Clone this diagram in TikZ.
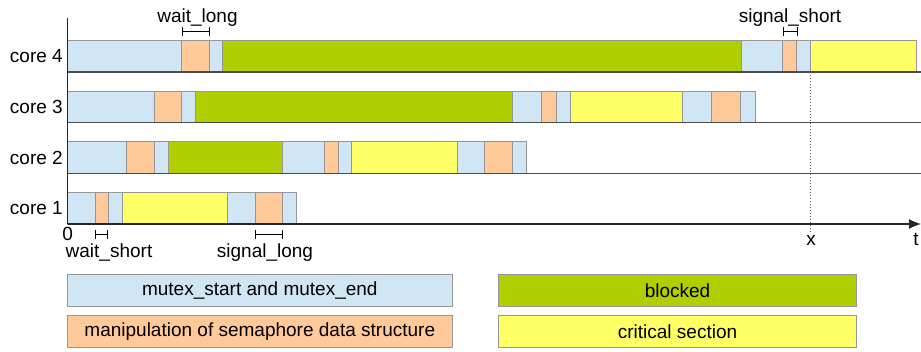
\documentclass[tikz,border=0pt]{standalone}
\usepackage{fontspec}
\setmainfont{Liberation Sans}
\usetikzlibrary{arrows.meta}
\definecolor{mtxblue}{RGB}{208,230,244}
\definecolor{semorange}{RGB}{255,201,153}
\definecolor{blkgreen}{RGB}{176,206,0}
\definecolor{crityellow}{RGB}{255,255,102}
\definecolor{edgegray}{RGB}{150,150,150}
\begin{document}
\begin{tikzpicture}[x=1pt,y=-1pt,
  every node/.style={font=\fontsize{19}{22}\selectfont, inner sep=0pt},
  mutex/.style={fill=mtxblue, draw=edgegray, line width=0.9pt},
  semdata/.style={fill=semorange, draw=edgegray, line width=0.9pt},
  blocked/.style={fill=blkgreen, draw=edgegray, line width=0.9pt},
  critical/.style={fill=crityellow, draw=edgegray, line width=0.9pt},
  rowline/.style={draw=black!70, line width=1.1pt},
  span/.style={black, line width=0.8pt, {Bar[width=9pt]}-{Bar[width=9pt]}},
  legendbox/.style={minimum height=32.4pt, draw=edgegray, line width=1pt}]
\useasboundingbox (0,0) rectangle (921,352);
% core 4
\foreach \a/\b/\s in {67.7/181.7/mutex, 181.7/209.3/semdata, 209.3/222.3/mutex,
  222.3/741.7/blocked, 741.7/782.7/mutex, 782.7/796.7/semdata, 796.7/810.7/mutex,
  810.7/916/critical}
  \draw[\s] (\a,40.7) rectangle (\b,72);
% core 3
\foreach \a/\b/\s in {67.7/154/mutex, 154/181.7/semdata, 181.7/195.3/mutex,
  195.3/512.3/blocked, 512.3/541.7/mutex, 541.7/556.3/semdata, 556.3/570.3/mutex,
  570.3/682.3/critical, 682.3/711.7/mutex, 711.7/740.3/semdata, 740.3/755.3/mutex}
  \draw[\s] (\a,91.2) rectangle (\b,122.7);
% core 2
\foreach \a/\b/\s in {67.7/126.7/mutex, 126.7/154.3/semdata, 154.3/168.3/mutex,
  168.3/282.7/blocked, 282.7/324/mutex, 324/338.3/semdata, 338.3/351.7/mutex,
  351.7/457/critical, 457/484.3/mutex, 484.3/512.3/semdata, 512.3/526/mutex}
  \draw[\s] (\a,141.8) rectangle (\b,173.3);
% core 1
\foreach \a/\b/\s in {67.7/95/mutex, 95/108.3/semdata, 108.3/122.7/mutex,
  122.7/227.7/critical, 227.7/255.3/mutex, 255.3/282.7/semdata, 282.7/296.3/mutex}
  \draw[\s] (\a,192.5) rectangle (\b,224);
% rows and axes
\foreach \y in {72,122.7,173.3}
  \draw[rowline] (67.7,\y) -- (921,\y);
\draw[black!85, line width=1.1pt] (67.7,18) -- (67.7,224);
\draw[black!85, line width=1.1pt, -{Latex[length=12pt, width=10pt]}] (67.7,224) -- (921,224);
\draw[black!60, line width=1pt, dotted] (810.7,72) -- (810.7,233);
% labels
\node[anchor=east] (core4) at (63,56.3) {core 4};
\node[anchor=east] (core3) at (63,106.9) {core 3};
\node[anchor=east] (core2) at (63,157.5) {core 2};
\node[anchor=east] (core1) at (63,208.2) {core 1};
\node (zero) at (67.7,234) {0};
\node (xmark) at (811,240.5) {x};
\node (tmark) at (916,239) {t};
% spans
\draw[span] (181.7,31.5) -- (209.3,31.5);
\node[anchor=base] (waitlong) at (197.5,22.5) {wait\_long};
\draw[span] (783.3,31.5) -- (797.3,31.5);
\node[anchor=base] (signalshort) at (790,22.5) {signal\_short};
\draw[span] (95,234.5) -- (107.7,234.5);
\node[anchor=base] (waitshort) at (109,258) {wait\_short};
\draw[span] (255.3,234.5) -- (282.7,234.5);
\node[anchor=base] (signallong) at (265,258) {signal\_long};
% legend
\node[legendbox, fill=mtxblue, minimum width=385pt] (legmutex) at (259.8,290.5) {mutex\_start and mutex\_end};
\node[legendbox, fill=semorange, minimum width=385pt] (legsem) at (259.8,331.7) {manipulation of semaphore data structure};
\node[legendbox, fill=blkgreen, minimum width=358.4pt] (legblocked) at (677.5,290.5) {blocked};
\node[legendbox, fill=crityellow, minimum width=358.4pt] (legcrit) at (677.5,331.7) {critical section};
\end{tikzpicture}
\end{document}
